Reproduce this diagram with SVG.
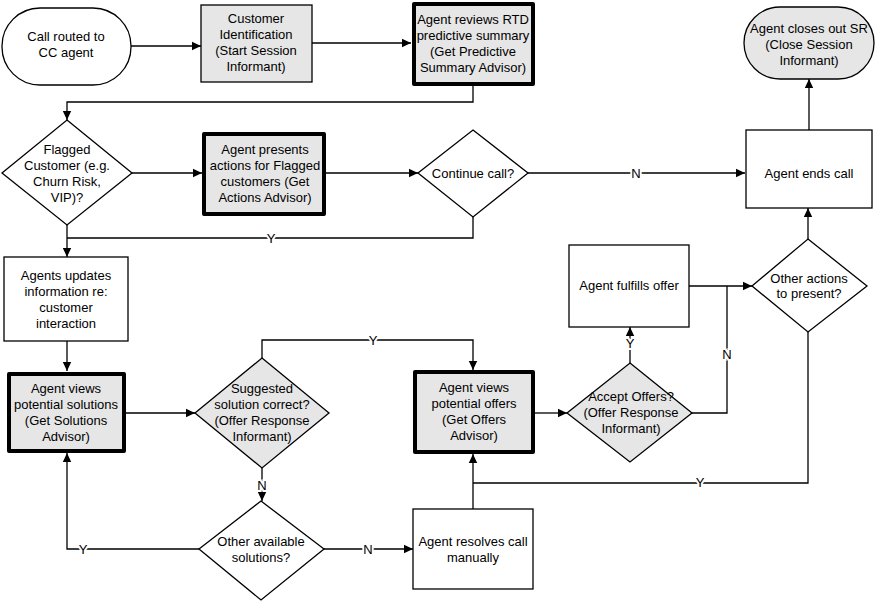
<svg xmlns="http://www.w3.org/2000/svg" width="875" height="601" viewBox="0 0 875 601">
<defs>
<marker id="arr" markerWidth="10" markerHeight="10" refX="9" refY="5" orient="auto" markerUnits="userSpaceOnUse">
<path d="M0,0.8 L9,5 L0,9.2 Z" fill="#000"/>
</marker>
<style>
text{font-family:"Liberation Sans",Arial,sans-serif;font-size:13px;fill:#000;text-anchor:middle}
.n{fill:#fff;stroke:#000;stroke-width:1.3}
.g{fill:#e6e6e6;stroke:#000;stroke-width:1.3}
.t{fill:#e6e6e6;stroke:#000;stroke-width:4;stroke-linejoin:round}
.c path{fill:none;stroke:#000;stroke-width:1.3}
.a{marker-end:url(#arr)}
.lb{paint-order:stroke;stroke:#fff;stroke-width:4px}
</style>
</defs>
<rect width="875" height="601" fill="#fff"/>

<g id="connectors" class="c">
<path class="a" d="M131,46 H201"/>
<path class="a" d="M312,43 H411"/>
<path class="a" d="M473,86 V102 H67 V120"/>
<path class="a" d="M132,173 H202"/>
<path class="a" d="M326,173 H418"/>
<path class="a" d="M528,173 H745"/>
<path class="a" d="M67,225 V257"/>
<path d="M473,217 V238 H67"/>
<path class="a" d="M809,130 V79"/>
<path class="a" d="M67,341 V371"/>
<path class="a" d="M126,413 H195"/>
<path class="a" d="M262,358 V340 H473 V370"/>
<path class="a" d="M262,468 V501"/>
<path class="a" d="M199,549 H67 V453"/>
<path class="a" d="M324,549 H413"/>
<path class="a" d="M473,509 V454"/>
<path d="M808,332 V483 H473"/>
<path class="a" d="M535,413 H567"/>
<path class="a" d="M630,363 V327"/>
<path class="a" d="M689,286 H752"/>
<path d="M692,413 H727 V286"/>
<path class="a" d="M808,239 V208"/>
</g>

<g id="labels">
<text class="lb" x="636" y="178">N</text>
<text class="lb" x="271" y="243">Y</text>
<text class="lb" x="373" y="345">Y</text>
<text class="lb" x="262" y="490">N</text>
<text class="lb" x="83" y="554">Y</text>
<text class="lb" x="368" y="554">N</text>
<text class="lb" x="700" y="487">Y</text>
<text class="lb" x="630" y="348">Y</text>
<text class="lb" x="727" y="359">N</text>
</g>

<g id="n-call-routed">
<rect class="n" x="2" y="8" width="129" height="77" rx="38" ry="38"/>
<text x="66" y="41">Call routed to</text>
<text x="66" y="57">CC agent</text>
</g>

<g id="n-customer-id">
<rect class="g" x="201" y="5" width="111" height="77"/>
<text x="256" y="23">Customer</text>
<text x="256" y="39">Identification</text>
<text x="256" y="55">(Start Session</text>
<text x="256" y="71">Informant)</text>
</g>

<g id="n-reviews-rtd">
<rect class="t" x="414" y="4" width="119" height="80"/>
<text x="473" y="24">Agent reviews RTD</text>
<text x="473" y="40">predictive summary</text>
<text x="473" y="56">(Get Predictive</text>
<text x="473" y="72">Summary Advisor)</text>
</g>

<g id="n-closes-sr">
<rect class="g" x="744" y="7" width="130" height="72" rx="36" ry="36"/>
<text x="809" y="33">Agent closes out SR</text>
<text x="809" y="49">(Close Session</text>
<text x="809" y="65">Informant)</text>
</g>

<g id="n-flagged">
<polygon class="n" points="67,120 132,173 67,225 2,173"/>
<text x="67" y="154">Flagged</text>
<text x="67" y="170">Customer (e.g.</text>
<text x="67" y="186">Churn Risk,</text>
<text x="67" y="202">VIP)?</text>
</g>

<g id="n-presents-actions">
<rect class="t" x="204" y="134" width="120" height="80"/>
<text x="265" y="154">Agent presents</text>
<text x="265" y="170">actions for Flagged</text>
<text x="265" y="186">customers (Get</text>
<text x="265" y="202">Actions Advisor)</text>
</g>

<g id="n-continue">
<polygon class="n" points="473,130 528,173 473,217 418,173"/>
<text x="473" y="178">Continue call?</text>
</g>

<g id="n-ends-call">
<rect class="n" x="746" y="130" width="126" height="78"/>
<text x="809" y="178">Agent ends call</text>
</g>

<g id="n-updates">
<rect class="n" x="4" y="257" width="124" height="84"/>
<text x="66" y="280">Agents updates</text>
<text x="66" y="296">information re:</text>
<text x="66" y="312">customer</text>
<text x="66" y="328">interaction</text>
</g>

<g id="n-fulfills">
<rect class="n" x="569" y="245" width="120" height="82"/>
<text x="629" y="290">Agent fulfills offer</text>
</g>

<g id="n-other-actions">
<polygon class="n" points="808,239 867,286 808,332 752,286"/>
<text x="809" y="283">Other actions</text>
<text x="809" y="298">to present?</text>
</g>

<g id="n-solutions">
<rect class="t" x="9" y="374" width="115" height="77"/>
<text x="66" y="393">Agent views</text>
<text x="66" y="409">potential solutions</text>
<text x="66" y="425">(Get Solutions</text>
<text x="66" y="441">Advisor)</text>
</g>

<g id="n-suggested">
<polygon class="g" points="262,358 329,413 262,468 195,413"/>
<text x="262" y="393">Suggested</text>
<text x="262" y="409">solution correct?</text>
<text x="262" y="425">(Offer Response</text>
<text x="262" y="441">Informant)</text>
</g>

<g id="n-offers">
<rect class="t" x="415" y="372" width="118" height="80"/>
<text x="474" y="392">Agent views</text>
<text x="474" y="408">potential offers</text>
<text x="474" y="424">(Get Offers</text>
<text x="474" y="440">Advisor)</text>
</g>

<g id="n-accept">
<polygon class="g" points="630,363 692,413 630,462 567,413"/>
<text x="631" y="401">Accept Offers?</text>
<text x="631" y="417">(Offer Response</text>
<text x="631" y="433">Informant)</text>
</g>

<g id="n-other-solutions">
<polygon class="n" points="261,501 324,549 261,600 199,549"/>
<text x="261" y="546">Other available</text>
<text x="261" y="562">solutions?</text>
</g>

<g id="n-resolves">
<rect class="n" x="413" y="509" width="120" height="80"/>
<text x="473" y="546">Agent resolves call</text>
<text x="473" y="562">manually</text>
</g>
</svg>
